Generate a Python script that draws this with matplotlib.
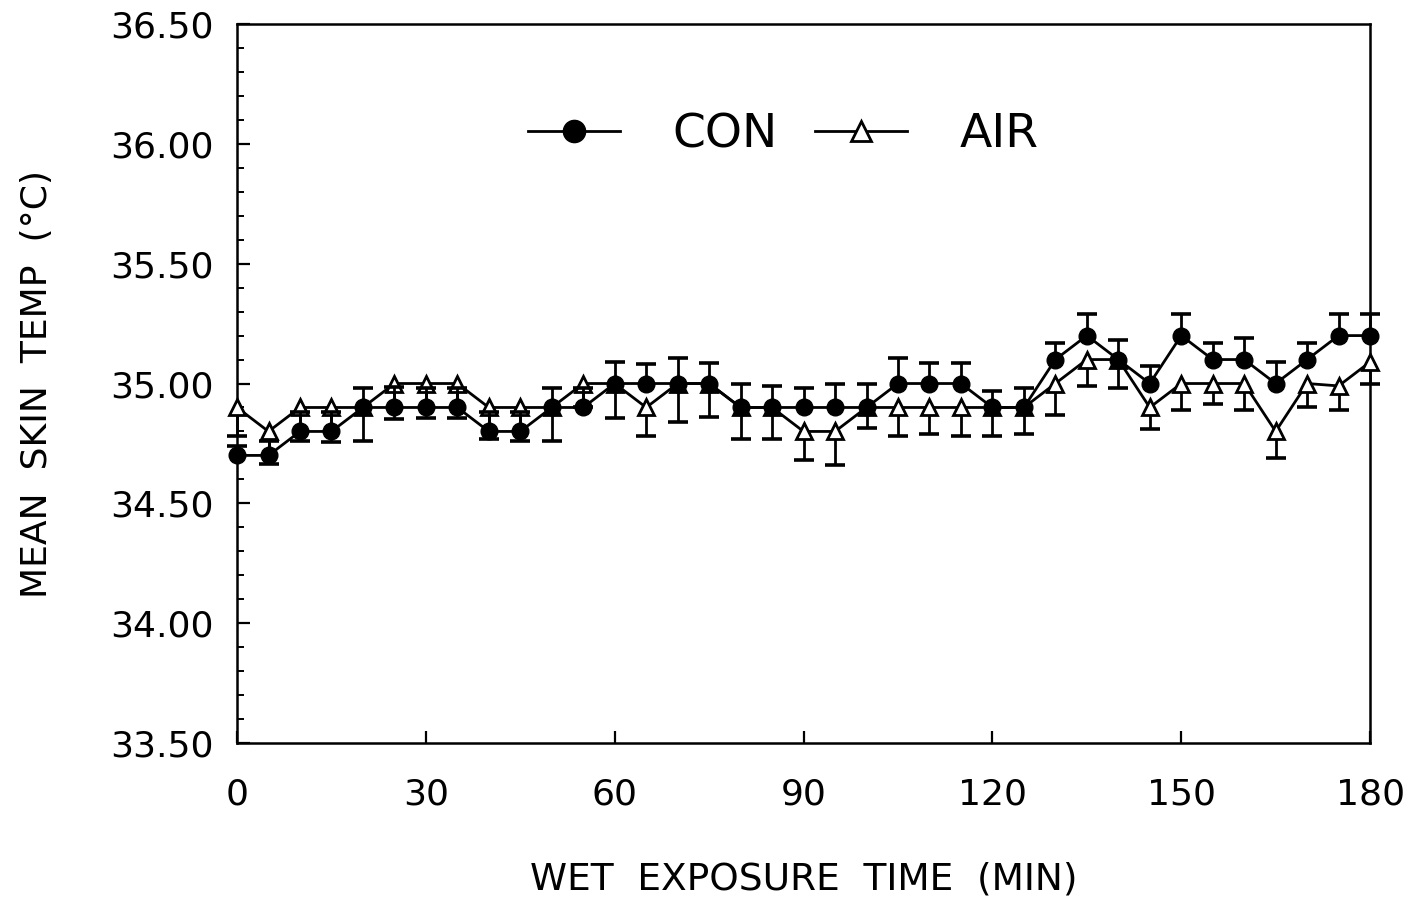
import numpy as np
import matplotlib.pyplot as plt
from matplotlib.lines import Line2D
from matplotlib.ticker import MultipleLocator, FormatStrFormatter

plt.rcParams['font.family'] = ['DejaVu Sans']

# time points (min)
minutes = np.arange(0, 185, 5)

# mean skin temperature, control
con = [34.70, 34.70, 34.80, 34.80, 34.90, 34.90, 34.90, 34.90, 34.80, 34.80,
       34.90, 34.90, 35.00, 35.00, 35.00, 35.00, 34.90, 34.90, 34.90, 34.90,
       34.90, 35.00, 35.00, 35.00, 34.90, 34.90, 35.10, 35.20, 35.10, 35.00,
       35.20, 35.10, 35.10, 35.00, 35.10, 35.20, 35.20]
# error (drawn upward)
con_se = [0.04, 0.06, 0.08, 0.08, 0.08, 0.085, 0.08, 0.08, 0.08, 0.08,
          0.08, 0.08, 0.09, 0.08, 0.105, 0.086, 0.10, 0.09, 0.08, 0.10,
          0.10, 0.107, 0.086, 0.086, 0.07, 0.08, 0.07, 0.09, 0.08, 0.075,
          0.09, 0.07, 0.09, 0.09, 0.07, 0.09, 0.09]

# mean skin temperature, air
air = [34.90, 34.80, 34.90, 34.90, 34.90, 35.00, 35.00, 35.00, 34.90, 34.90,
       34.90, 35.00, 35.00, 34.90, 35.00, 35.00, 34.90, 34.90, 34.80, 34.80,
       34.90, 34.90, 34.90, 34.90, 34.90, 34.90, 35.00, 35.10, 35.10, 34.90,
       35.00, 35.00, 35.00, 34.80, 35.00, 34.99, 35.09]
# error (drawn downward)
air_se = [0.12, 0.135, 0.14, 0.145, 0.14, 0.15, 0.144, 0.144, 0.13, 0.14,
          0.14, 0.10, 0.145, 0.12, 0.16, 0.14, 0.13, 0.13, 0.12, 0.14,
          0.085, 0.12, 0.11, 0.12, 0.12, 0.11, 0.13, 0.11, 0.12, 0.09,
          0.11, 0.085, 0.11, 0.11, 0.10, 0.10, 0.09]

con = np.array(con)
air = np.array(air)
con_se = np.array(con_se)
air_se = np.array(air_se)

fig = plt.figure(figsize=(14.11, 8.99), dpi=100)
ax = fig.add_axes([0.168, 0.1735, 0.803, 0.7998])

# AIR first so the CON markers sit on top
ax.vlines(minutes, air - air_se, air, color='black', lw=2, zorder=2,
          clip_on=False)
ax.plot(minutes, air - air_se, linestyle='none', marker='_', markersize=14,
        markeredgewidth=2.6, color='black', zorder=2, clip_on=False)
ax.plot(minutes, air, color='black', lw=2, marker='^', markersize=11.5,
        markerfacecolor='white', markeredgecolor='black', markeredgewidth=2,
        zorder=3, clip_on=False)

ax.vlines(minutes, con, con + con_se, color='black', lw=2, zorder=4,
          clip_on=False)
ax.plot(minutes, con + con_se, linestyle='none', marker='_', markersize=14,
        markeredgewidth=2.6, color='black', zorder=4, clip_on=False)
ax.plot(minutes, con, color='black', lw=2, marker='o', markersize=12,
        markerfacecolor='black', markeredgecolor='black', zorder=5,
        clip_on=False)

ax.set_xlim(0, 180)
ax.set_ylim(33.5, 36.5)
ax.xaxis.set_major_locator(MultipleLocator(30))
ax.yaxis.set_major_locator(MultipleLocator(0.5))
ax.yaxis.set_minor_locator(MultipleLocator(0.1))
ax.yaxis.set_major_formatter(FormatStrFormatter('%.2f'))

ax.tick_params(axis='both', which='both', direction='in', top=False, right=False)
ax.tick_params(axis='y', which='major', length=9, width=1.6, labelsize=26, pad=17)
ax.tick_params(axis='y', which='minor', length=5, width=1.4)
ax.tick_params(axis='x', which='major', length=9, width=1.6, labelsize=26, pad=25)

for sp in ax.spines.values():
    sp.set_linewidth(1.8)

ax.set_xlabel('WET  EXPOSURE  TIME  (MIN)', fontsize=27, labelpad=36)
ax.set_ylabel('MEAN  SKIN  TEMP  (°C)', fontsize=26, labelpad=40)

handles = [
    Line2D([], [], color='black', lw=2, marker='o', markersize=16,
           markerfacecolor='black'),
    Line2D([], [], color='black', lw=2, marker='^', markersize=15,
           markerfacecolor='white', markeredgewidth=2),
]
ax.legend(handles, ['CON', 'AIR'], loc='center', bbox_to_anchor=(0.482, 0.846),
          ncol=2, frameon=False, fontsize=34, handlelength=1.95,
          handletextpad=1.1, columnspacing=0.8)

fig.savefig('out.png', dpi=100)
